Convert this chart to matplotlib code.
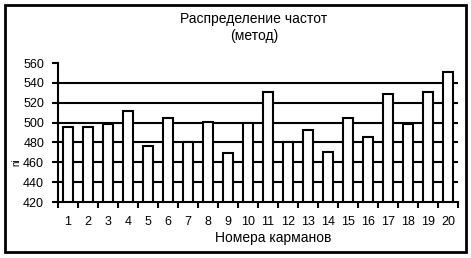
import matplotlib.pyplot as plt
from matplotlib.patches import Rectangle

plt.rcParams['font.family'] = ['Liberation Sans', 'DejaVu Sans']

# data
pockets = list(range(1, 21))
freqs = [496, 496, 499, 512, 476, 505, 480, 501, 469, 500,
         531, 480, 493, 470, 505, 485, 529, 499, 531, 551]
yticks = [420, 440, 460, 480, 500, 520, 540, 560]

fig = plt.figure(figsize=(4.71, 2.58), dpi=100)
ax = fig.add_axes([58 / 471, 1 - 202 / 258, 400 / 471, 139 / 258])

# outer frame
fig.patches.append(Rectangle((5 / 471, 1 - 252 / 258), 461 / 471, 247 / 258,
                             transform=fig.transFigure, fill=False,
                             edgecolor='black', linewidth=2))

ax.bar(pockets, [f - 420 for f in freqs], bottom=420, width=0.5,
       color='white', edgecolor='black', linewidth=1.5, zorder=3)

ax.set_xlim(0.5, 20.5)
ax.set_ylim(420, 560)
ax.set_yticks(yticks)
ax.set_yticklabels([str(v) for v in yticks], fontsize=9)
for v in yticks[1:-1]:
    ax.axhline(v, color='black', linewidth=1.5, zorder=1)

# boundary ticks between categories, labels at centres
ax.set_xticks([i + 0.5 for i in range(0, 21)])
ax.set_xticklabels([])
ax.set_xticks(pockets, minor=True)
ax.set_xticklabels([str(p) for p in pockets], minor=True, fontsize=9)
ax.tick_params(axis='x', which='major', direction='out', length=4, width=1.5)
ax.tick_params(axis='x', which='minor', length=0, pad=10)
ax.tick_params(axis='y', direction='out', length=4, width=1.5, pad=6)

for s in ['top', 'right']:
    ax.spines[s].set_visible(False)
for s in ['left', 'bottom']:
    ax.spines[s].set_linewidth(1.5)

fig.text(273 / 471, 1 - 238 / 258, 'Номера карманов', ha='center', va='center',
         fontsize=10)
fig.text(254 / 471, 1 - 27.5 / 258, 'Распределение частот\n(метод)', ha='center',
         va='center', fontsize=10, linespacing=1.3)
fig.text(16 / 471, 1 - 162 / 258, 'ni', rotation=90, ha='center', va='center',
         fontsize=7)

fig.savefig('out.png', dpi=100)
